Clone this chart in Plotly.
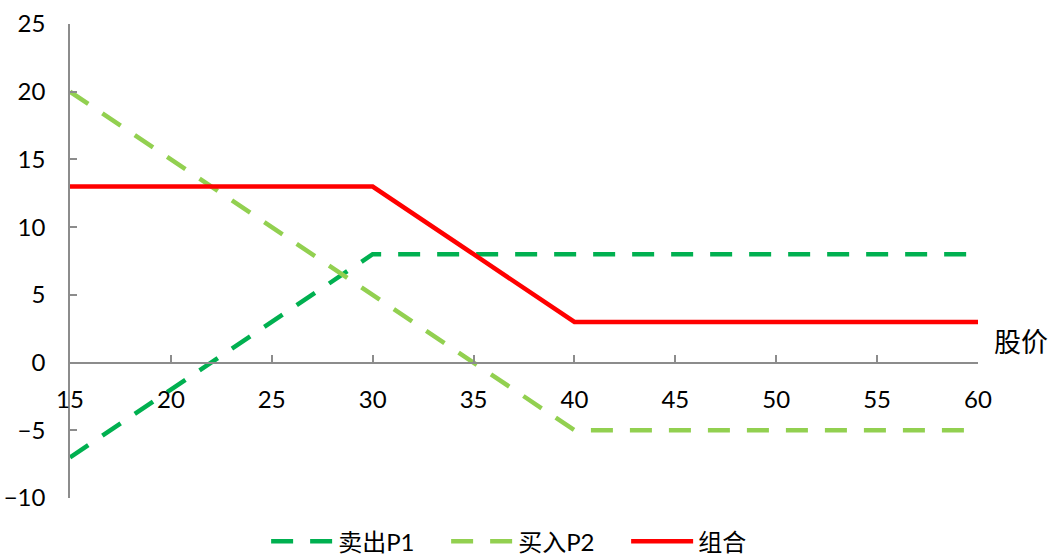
import plotly.graph_objects as go

# Stock price grid and option payoffs
price = [15, 20, 25, 30, 35, 40, 45, 50, 55, 60]
sell_p1 = [-7, -2, 3, 8, 8, 8, 8, 8, 8, 8]
buy_p2 = [20, 15, 10, 5, 0, -5, -5, -5, -5, -5]
combo = [13, 13, 13, 13, 8, 3, 3, 3, 3, 3]

x_ticks = [15, 20, 25, 30, 35, 40, 45, 50, 55, 60]
y_ticks = [-10, -5, 0, 5, 10, 15, 20, 25]

FONT = "Lato, 'Noto Sans CJK SC', sans-serif"
AXIS_GRAY = "#8c8c8c"

fig = go.Figure()
fig.add_trace(go.Scatter(x=price, y=sell_p1, mode="lines", name="卖出P1",
                         line=dict(color="#00b050", width=4.5, dash="22px,17px")))
fig.add_trace(go.Scatter(x=price, y=buy_p2, mode="lines", name="买入P2",
                         line=dict(color="#92d050", width=4.5, dash="22px,17px")))
fig.add_trace(go.Scatter(x=price, y=combo, mode="lines", name="组合",
                         line=dict(color="#ff0000", width=4.5)))

y_min, y_max = -10, 25
zero_frac = (0 - y_min) / (y_max - y_min)

fig.update_layout(
    width=1054, height=557,
    margin=dict(l=70, r=76, t=24, b=59, autoexpand=False),
    paper_bgcolor="white", plot_bgcolor="white",
    font=dict(family=FONT, size=24, color="black"),
    showlegend=True,
    legend=dict(orientation="h", x=0.216, xanchor="left", y=-0.092, yanchor="middle",
                font=dict(size=24), itemwidth=62, entrywidth=103, tracegroupgap=0,
                bgcolor="rgba(0,0,0,0)"),
    xaxis=dict(range=[15, 60], tickvals=x_ticks, showgrid=False, zeroline=False,
               showline=True, linecolor=AXIS_GRAY, linewidth=1.5,
               ticks="inside", ticklen=7, tickcolor=AXIS_GRAY, tickwidth=1.5,
               anchor="free", position=zero_frac, ticklabelstandoff=16,
               automargin=False),
    yaxis=dict(range=[y_min, y_max], tickvals=y_ticks, showgrid=False, zeroline=False,
               showline=True, linecolor=AXIS_GRAY, linewidth=1.5,
               ticks="inside", ticklen=7, tickcolor=AXIS_GRAY, tickwidth=1.5,
               ticklabelstandoff=18, automargin=False),
    annotations=[dict(text="股价", x=1.0, xref="paper", xanchor="left", xshift=14,
                      y=0, yref="y", yanchor="bottom", yshift=1, showarrow=False,
                      font=dict(family="'Noto Sans CJK SC'", size=27))],
)

fig.write_html("out.html")
